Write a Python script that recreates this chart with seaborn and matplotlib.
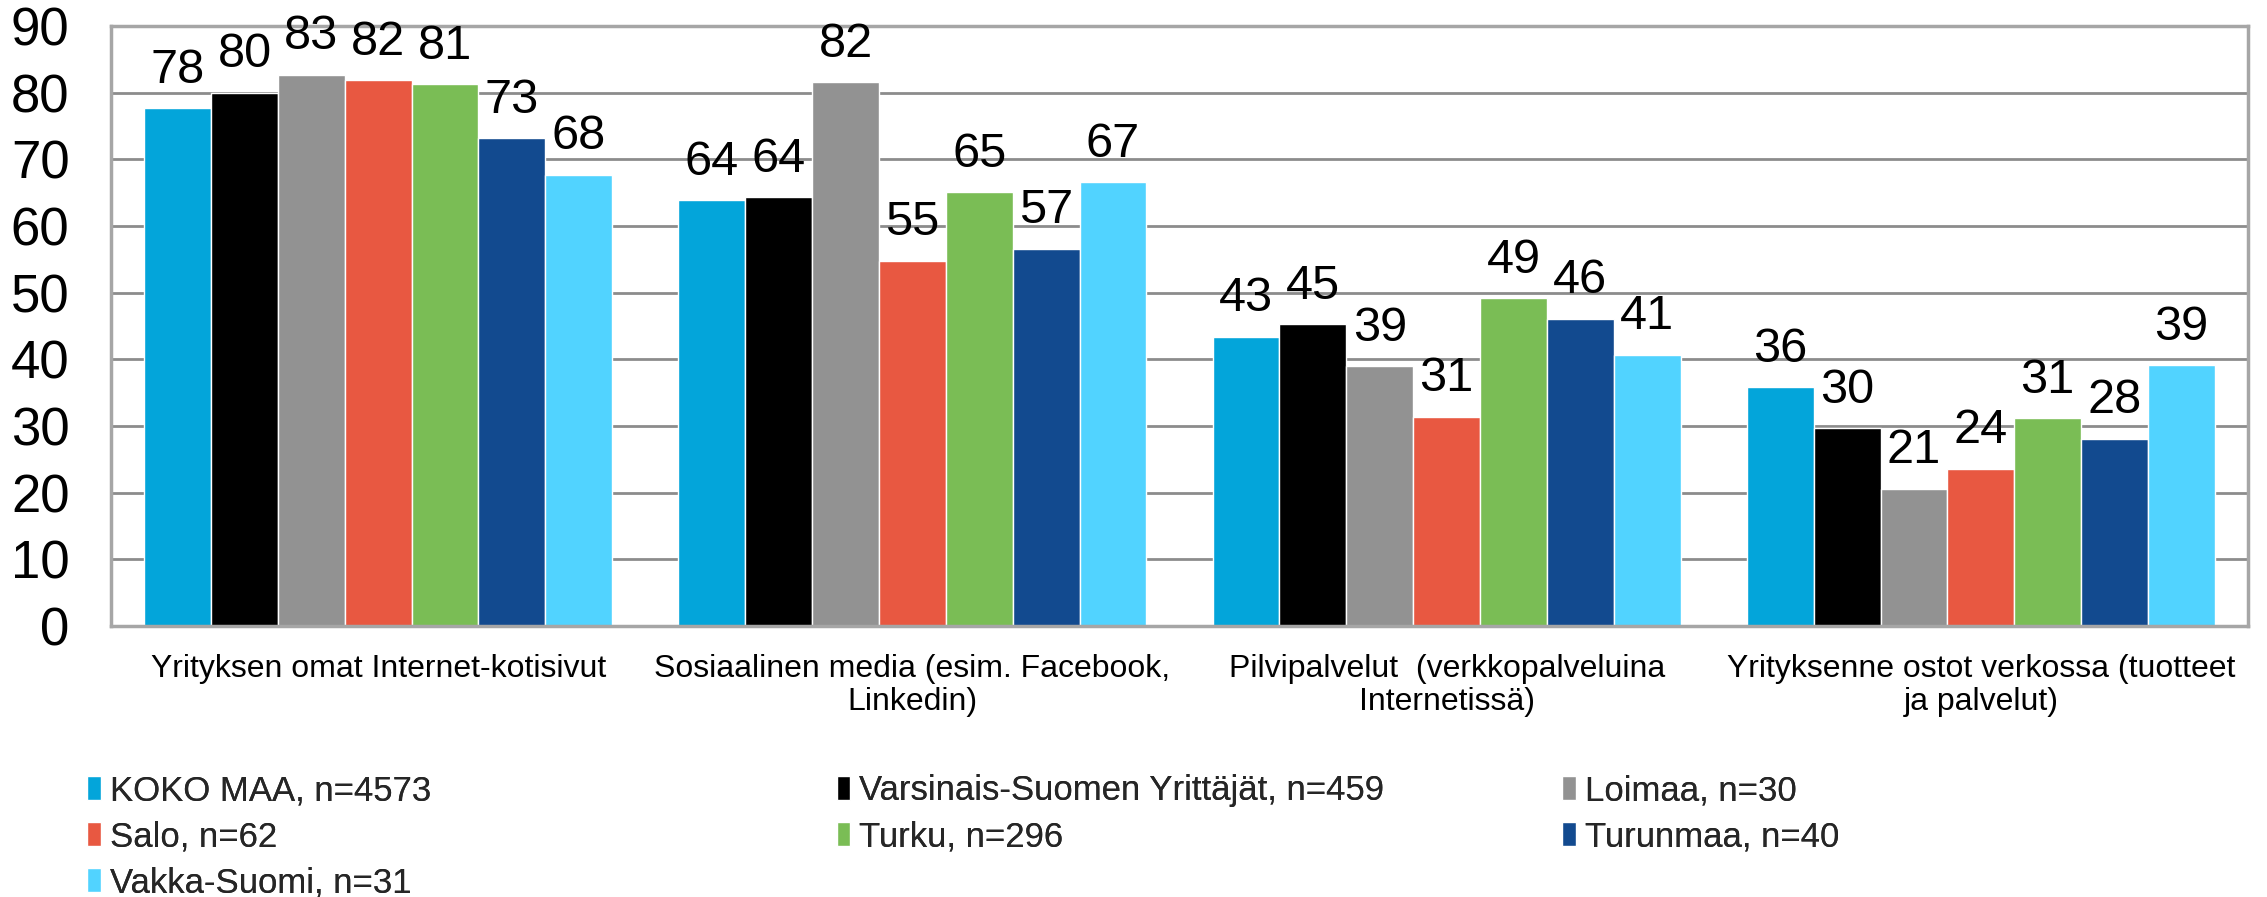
import matplotlib
matplotlib.use("Agg")
import matplotlib.pyplot as plt
import pandas as pd
import seaborn as sns

# ----------------------------------------------------------------
# Data
# ----------------------------------------------------------------
categories = [
    "Yrityksen omat Internet-kotisivut",
    "Sosiaalinen media (esim. Facebook,\nLinkedin)",
    "Pilvipalvelut  (verkkopalveluina\nInternetissä)",
    "Yrityksenne ostot verkossa (tuotteet\nja palvelut)",
]
series = [
    "KOKO MAA, n=4573",
    "Varsinais-Suomen Yrittäjät, n=459",
    "Loimaa, n=30",
    "Salo, n=62",
    "Turku, n=296",
    "Turunmaa, n=40",
    "Vakka-Suomi, n=31",
]
koko_maa   = [77.7, 63.9, 43.4, 35.8]
varsinais  = [80.0, 64.3, 45.3, 29.7]
loimaa     = [82.7, 81.6, 39.0, 20.6]
salo       = [81.9, 54.8, 31.4, 23.6]
turku      = [81.3, 65.1, 49.2, 31.2]
turunmaa   = [73.2, 56.6, 46.1, 28.1]
vakka      = [67.7, 66.6, 40.7, 39.1]
values = [koko_maa, varsinais, loimaa, salo, turku, turunmaa, vakka]

colors = ["#03A5DA", "#000000", "#929292", "#E85841", "#7ABD55", "#124A8F", "#51D3FF"]
GRID = "#8C8C8C"
FRAME = "#A6A6A6"

rows = []
for s, vals in zip(series, values):
    for c, v in zip(categories, vals):
        rows.append({"category": c, "series": s, "value": v})
df = pd.DataFrame(rows)

# ----------------------------------------------------------------
# Plot
# ----------------------------------------------------------------
sns.set_theme(style="white")
plt.rcParams["font.family"] = ["Liberation Sans", "DejaVu Sans"]

fig = plt.figure(figsize=(22.67, 8.97), dpi=100)
ax = fig.add_axes([0.049, 0.302, 0.9426, 0.669])

sns.barplot(data=df, x="category", y="value", hue="series",
            order=categories, hue_order=series, palette=colors,
            width=0.876, gap=0, saturation=1, errorbar=None, ax=ax)

for cont in ax.containers:
    ax.bar_label(cont, fmt="%.0f", padding=11, fontsize=35, color="black")

ax.set_ylim(0, 90)
ax.set_yticks(range(0, 91, 10))
ax.set_xlim(-0.5, len(categories) - 0.5)
ax.yaxis.grid(True, color=GRID, linewidth=2)
ax.set_axisbelow(True)
for sp in ax.spines.values():
    sp.set_visible(True)
    sp.set_color(FRAME)
    sp.set_linewidth(2.5)
ax.tick_params(axis="y", length=0, pad=30, labelsize=38, labelcolor="black")
ax.tick_params(axis="x", length=0, pad=20, labelsize=23, labelcolor="black")
for lbl in ax.get_xticklabels():
    lbl.set_linespacing(1.15)
ax.set_xlabel("")
ax.set_ylabel("")

# Legend: three columns, filled row by row like the original
handles, labels = ax.get_legend_handles_labels()
ax.get_legend().remove()
cols = [[0, 3, 6], [1, 4], [2, 5]]
xs = [0.0384, 0.369, 0.689]
for idx, x in zip(cols, xs):
    leg = fig.legend([handles[i] for i in idx], [labels[i] for i in idx],
                     loc="upper left", bbox_to_anchor=(x, 0.137),
                     frameon=False, fontsize=25, handlelength=0.4,
                     handleheight=0.7, handletextpad=0.25, labelspacing=0.38,
                     borderpad=0, borderaxespad=0)
    fig.add_artist(leg)

fig.savefig("out.png", dpi=100, facecolor="white")
